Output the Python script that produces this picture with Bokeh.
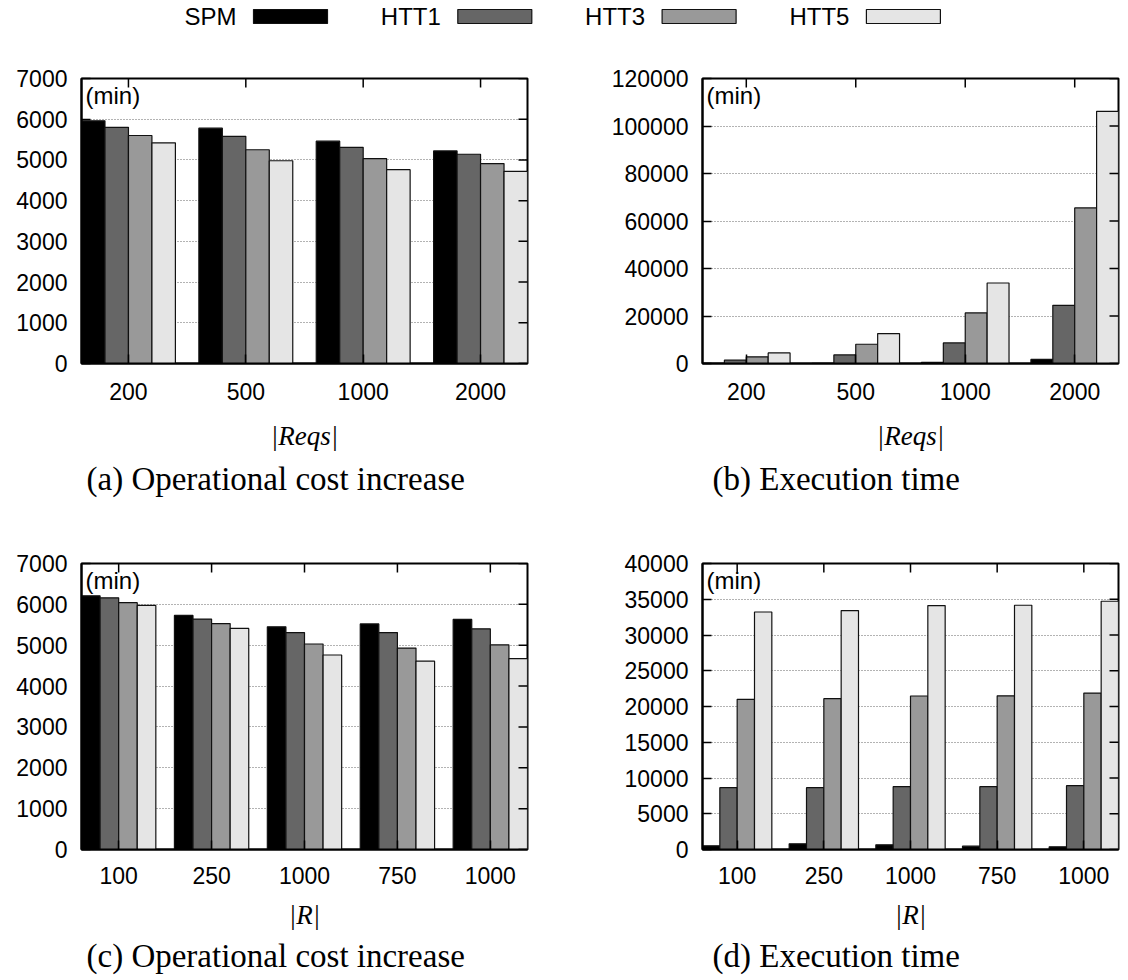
import math
from bokeh.plotting import figure
from bokeh.models import Range1d, FixedTicker, Label, Title, BasicTickFormatter
from bokeh.layouts import column, row
from bokeh.embed import file_html
from bokeh.resources import INLINE
from bokeh.core.properties import value

# ---------------- data ----------------
series = ["SPM", "HTT1", "HTT3", "HTT5"]
colors = ["#000000", "#666666", "#999999", "#e5e5e5"]

reqs_labels = ["200", "500", "1000", "2000"]
r_labels = ["100", "250", "1000", "750", "1000"]

# (a) operational cost increase vs |Reqs|
cost_reqs_spm = [5960, 5780, 5460, 5220]
cost_reqs_htt1 = [5800, 5580, 5310, 5140]
cost_reqs_htt3 = [5600, 5250, 5030, 4910]
cost_reqs_htt5 = [5420, 4980, 4760, 4720]

# (b) execution time vs |Reqs|
time_reqs_spm = [100, 100, 500, 1700]
time_reqs_htt1 = [1400, 3600, 8650, 24500]
time_reqs_htt3 = [2800, 8100, 21300, 65500]
time_reqs_htt5 = [4450, 12600, 33900, 106200]

# (c) operational cost increase vs |R|
cost_r_spm = [6210, 5730, 5450, 5520, 5630]
cost_r_htt1 = [6160, 5640, 5310, 5310, 5400]
cost_r_htt3 = [6040, 5530, 5030, 4930, 5010]
cost_r_htt5 = [5975, 5410, 4760, 4610, 4670]

# (d) execution time vs |R|
time_r_spm = [520, 800, 660, 460, 380]
time_r_htt1 = [8640, 8640, 8780, 8780, 8920]
time_r_htt3 = [21000, 21100, 21470, 21500, 21880]
time_r_htt5 = [33220, 33410, 34110, 34160, 34720]

SANS = "Liberation Sans"
SERIF = "Liberation Serif"
TICK_SIZE = "23px"


def style_axis(ax, ticker, standoff):
    ax.ticker = ticker
    ax.major_tick_in = 9
    ax.major_tick_out = 0
    ax.minor_tick_line_color = None
    ax.axis_line_color = "black"
    ax.axis_line_width = 2
    ax.major_tick_line_width = 1.5
    ax.major_tick_line_color = "black"
    ax.major_label_text_font = SANS
    ax.major_label_text_font_size = TICK_SIZE
    ax.major_label_text_color = "black"
    ax.major_label_standoff = standoff


def make_panel(labels, values_list, ymax, ystep, xlabel, caption,
               width, height, mb_left, mb_right, mb_top, mb_bottom, cap_offset,
               tick_standoff, label_standoff, title_standoff):
    n = len(labels)
    xmin, xmax = -0.4, n - 0.6
    p = figure(width=width, height=height,
               x_range=Range1d(xmin, xmax), y_range=Range1d(0, ymax),
               output_backend="svg", toolbar_location=None,
               min_border_left=mb_left, min_border_right=mb_right,
               min_border_top=mb_top, min_border_bottom=mb_bottom)
    p.outline_line_color = "black"
    p.outline_line_width = 2
    p.background_fill_color = "white"
    p.border_fill_color = "white"

    xticks = list(range(n))
    yticks = list(range(0, ymax + 1, ystep))
    xt = FixedTicker(ticks=xticks)
    yt = FixedTicker(ticks=yticks)

    style_axis(p.xaxis[0], xt, tick_standoff)
    p.xaxis.major_label_overrides = {i: lab for i, lab in enumerate(labels)}
    p.xaxis.axis_label = xlabel
    p.xaxis.axis_label_text_font = SERIF
    p.xaxis.axis_label_text_font_style = "italic"
    p.xaxis.axis_label_text_font_size = "27px"
    p.xaxis.axis_label_text_color = "black"
    p.xaxis.axis_label_standoff = label_standoff

    style_axis(p.yaxis[0], yt, 14)
    p.yaxis.formatter = BasicTickFormatter(use_scientific=False)

    p.xgrid.visible = False
    p.ygrid.ticker = yt
    p.ygrid.grid_line_color = "#666666"
    p.ygrid.grid_line_dash = "1 2"
    p.ygrid.grid_line_width = 1

    offsets = [-0.3, -0.1, 0.1, 0.3]
    for vals, col, off in zip(values_list, colors, offsets):
        xs = [k + off for k in range(n)]
        p.vbar(x=xs, top=vals, bottom=0, width=0.2,
               fill_color=col, line_color="#111111", line_width=1.2)

    # mirrored inward tick marks on the right and top frame edges
    p.scatter(x=[xmax] * len(yticks), y=yticks, marker="dash", size=18,
              line_color="black", line_width=1.5)
    p.scatter(x=xticks, y=[ymax] * n, marker="dash", size=18, angle=math.pi / 2,
              line_color="black", line_width=1.5)

    p.add_layout(Label(x=xmin, y=ymax, x_offset=4, y_offset=-3, text="(min)",
                       text_baseline="top", text_align="left",
                       text_font=SANS, text_font_size="24px", text_color="black"))

    p.add_layout(Title(text=caption, align="left", offset=cap_offset,
                       standoff=title_standoff,
                       text_font=SERIF, text_font_size="33px",
                       text_font_style="normal", text_color="black"), "below")
    return p


# ---------------- legend strip ----------------
LW, LH = 1120, 50
leg = figure(width=LW, height=LH, x_range=Range1d(0, LW), y_range=Range1d(0, LH),
             output_backend="svg", toolbar_location=None,
             x_axis_location=None, y_axis_location=None,
             min_border=0)
leg.outline_line_color = None
leg.grid.visible = False
sw_left0 = 253
sw_step = 204.3
sw_w, sw_h = 74, 14
sw_lefts = [sw_left0 + i * sw_step for i in range(len(series))]
leg_y = LH - 16
leg.rect(x=[l + sw_w / 2 for l in sw_lefts], y=[leg_y] * len(series),
         width=sw_w, height=sw_h, fill_color=colors, line_color="#111111",
         line_width=1.2)
leg.text(x=[l - 17 for l in sw_lefts], y=[leg_y] * len(series), text=series,
         text_align="right", text_baseline="middle",
         text_font=value(SANS), text_font_size="24px", text_color="black")

# ---------------- panels ----------------
pa = make_panel(reqs_labels, [cost_reqs_spm, cost_reqs_htt1, cost_reqs_htt3, cost_reqs_htt5],
                7000, 1000, "|Reqs|", "(a) Operational cost increase",
                553, 453, 81, 26, 28, 140, 5, 19, 18, 10)
pb = make_panel(reqs_labels, [time_reqs_spm, time_reqs_htt1, time_reqs_htt3, time_reqs_htt5],
                120000, 20000, "|Reqs|", "(b) Execution time",
                567, 453, 149, 2, 28, 140, 10, 19, 18, 10)
pc = make_panel(r_labels, [cost_r_spm, cost_r_htt1, cost_r_htt3, cost_r_htt5],
                7000, 1000, "|R|", "(c) Operational cost increase",
                553, 474, 81, 26, 60, 126, 5, 17, 13, 7)
pd = make_panel(r_labels, [time_r_spm, time_r_htt1, time_r_htt3, time_r_htt5],
                40000, 5000, "|R|", "(d) Execution time",
                567, 474, 149, 2, 60, 126, 10, 17, 13, 7)

layout = column(leg, row(pa, pb), row(pc, pd))

open("out.html", "w").write(file_html(layout, INLINE))
